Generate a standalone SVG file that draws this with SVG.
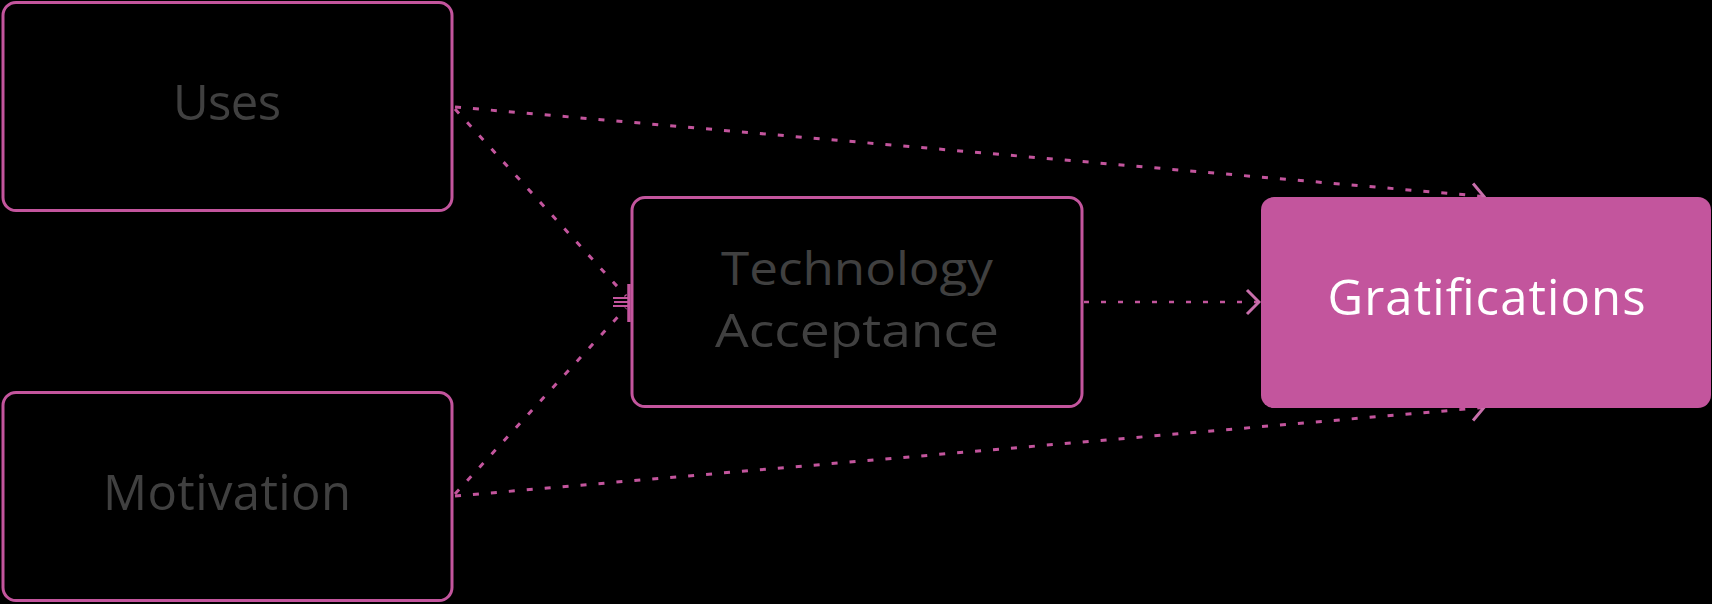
<svg xmlns="http://www.w3.org/2000/svg" width="1712" height="604" viewBox="0 0 1712 604">
  <defs>
    <style>
      .box { fill: none; stroke: #C3559D; stroke-width: 3; }
      .boxf { fill: #C3559D; stroke: none; }
      .lbl { font-family: "Open Sans", "Liberation Sans", sans-serif; font-size: 49px; fill: #404040; text-anchor: middle; }
      .lbls { font-family: "Open Sans", "Liberation Sans", sans-serif; font-size: 45px; fill: #404040; text-anchor: middle; }
      .lblw { font-family: "Open Sans", "Liberation Sans", sans-serif; font-size: 49px; fill: #FFFFFF; text-anchor: middle; }
      .dot { fill: none; stroke: #C3559D; stroke-width: 3; stroke-dasharray: 6 12; }
      .dot2 { fill: none; stroke: #C3559D; stroke-width: 2.5; stroke-dasharray: 5 12; }
    </style>
    <marker id="chev" markerWidth="16" markerHeight="28" refX="14" refY="14" orient="auto" markerUnits="userSpaceOnUse">
      <path d="M2 2 L14 14 L2 26" fill="none" stroke="#C86FAB" stroke-width="3"/>
    </marker>
  </defs>
  <rect width="1712" height="604" fill="#000000"/>

  <g id="connectors">
    <path class="dot" d="M455 107 L1484 196.5" marker-end="url(#chev)"/>
    <path class="dot" d="M455 496 L1484 407.5" marker-end="url(#chev)"/>
    <path class="dot2" d="M1084 302 L1259 302" marker-end="url(#chev)"/>
    <path class="dot" d="M455 109 L626 296"/>
    <path class="dot" d="M455 494 L626 308"/>
    <path d="M629 284 V322" stroke="#C3559D" stroke-width="3.5" fill="none"/>
    <path d="M613 298 H629 M614 302 H629 M613 306 H629" stroke="#C3559D" stroke-width="2" fill="none"/>
  </g>

  <g id="node-uses">
    <rect class="box" x="3" y="2.5" width="449" height="208" rx="13"/>
    <text class="lbl" x="227" y="120" textLength="108">Uses</text>
  </g>

  <g id="node-motivation">
    <rect class="box" x="3" y="392.5" width="449" height="208" rx="13"/>
    <text class="lbl" x="227" y="510" textLength="248">Motivation</text>
  </g>

  <g id="node-tech">
    <rect class="box" x="632" y="197.5" width="450" height="209" rx="13"/>
    <text class="lbls" x="857" y="285" textLength="272" lengthAdjust="spacingAndGlyphs">Technology</text>
    <text class="lbls" x="857" y="346.5" textLength="284" lengthAdjust="spacingAndGlyphs">Acceptance</text>
  </g>

  <g id="node-gratifications">
    <rect class="boxf" x="1261" y="197" width="450" height="211" rx="13"/>
    <text class="lblw" x="1486.5" y="315" textLength="318">Gratifications</text>
  </g>
</svg>
